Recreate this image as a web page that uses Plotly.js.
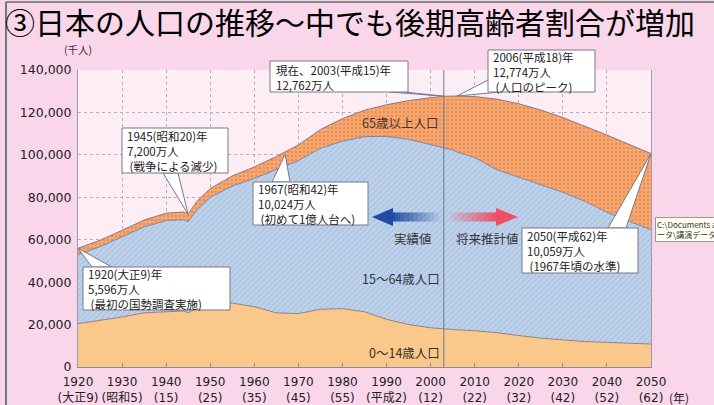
<!DOCTYPE html>
<html><head><meta charset="utf-8">
<script src="https://cdn.plot.ly/plotly-3.0.1.min.js"></script>
<style>html,body{margin:0;padding:0;background:#fad6ea;overflow:hidden}#chart{width:714px;height:405px}</style>
</head><body><div id="chart"></div>
<script>
// ---- data (thousands of people) ----
const years      = [1920,1925,1930,1935,1940,1944,1945,1947,1950,1955,1960,1965,1970,1975,1980,1985,1990,1995,2000,2003,2005,2006,2010,2015,2020,2025,2030,2035,2040,2045,2050];
const age0to14   = [20416,21924,23579,25545,26000,26400,25500,27800,29428,30123,28434,25529,25153,27221,27507,26033,22486,20014,18472,17905,17727,17550,17074,16197,14850,13600,12800,12000,11600,11200,10842];
const age15to64  = [32606,34792,37807,40484,43046,43014,42947,46451,50578,55168,60470,67444,72119,75854,78906,82548,86230,87295,86449,85403,84589,83791,81664,76807,74697,72466,69550,66102,61338,57460,53888];
const age65plus  = [2941,3021,3064,3225,3454,3650,3700,3850,4109,4786,5398,6236,7393,8865,10647,12468,14895,18261,22005,24311,25392,26400,28735,33262,34560,35070,35230,35500,36400,36300,35863];
const seriesNames = ['0～14歳人口','15～64歳人口','65歳以上人口'];
const xTickYears  = [1920,1930,1940,1950,1960,1970,1980,1990,2000,2010,2020,2030,2040,2050];
const xTickLabels = ['1920<br>(大正9)','1930<br>(昭和5)','1940<br>(15)','1950<br>(25)','1960<br>(35)','1970<br>(45)','1980<br>(55)','1990<br>(平成2)','2000<br>(12)','2010<br>(22)','2020<br>(32)','2030<br>(42)','2040<br>(52)','2050<br>(62)'];
const yTickValues = [0,20000,40000,60000,80000,100000,120000,140000];
const actualYear  = 2003;
const calloutYears  = [1920,1945,1967,2003,2006,2050];
const calloutValues = [55960,72000,100240,127620,127740,100590];
const calloutTexts  = [
  ['1920(大正9)年','5,596万人','\u00a0(最初の国勢調査実施)'],
  ['1945(昭和20)年','7,200万人','\u00a0(戦争による減少)'],
  ['1967(昭和42)年','10,024万人','\u00a0(初めて1億人台へ)'],
  ['現在、2003(平成15)年','12,762万人'],
  ['2006(平成18)年','12,774万人','\u00a0(人口のピーク)'],
  ['2050(平成62)年','10,059万人','\u00a0(1967年頃の水準)']
];

// ---- geometry helpers ----
const W=714,H=405,L=78,R=651,T=70,B=367;
const XMIN=1920,XMAX=2050,YMAX=140000;
const px2paperX = px => (px-L)/(R-L);
const py2paperY = py => (B-py)/(B-T);
const year2px = y => L+(y-XMIN)/(XMAX-XMIN)*(R-L);
const val2py  = v => B - v/YMAX*(B-T);

const CJK = 'Noto Sans CJK JP, sans-serif';
const NUM = 'DejaVu Sans, Noto Sans CJK JP, sans-serif';
const edge = 'rgb(120,120,140)';

const traces = [
  {x:years,y:age0to14,name:seriesNames[0],type:'scatter',mode:'lines',stackgroup:'one',
   line:{color:'rgb(150,130,120)',width:1},fillcolor:'rgb(251,200,140)',hoverinfo:'skip'},
  {x:years,y:age15to64,name:seriesNames[1],type:'scatter',mode:'lines',stackgroup:'one',
   line:{color:'rgb(125,135,160)',width:1},fillcolor:'rgb(186,206,232)',
   fillpattern:{shape:'/',bgcolor:'rgb(190,210,235)',fgcolor:'rgb(165,189,220)',size:4,solidity:0.25},hoverinfo:'skip'},
  {x:years,y:age65plus,name:seriesNames[2],type:'scatter',mode:'lines',stackgroup:'one',
   line:{color:'rgb(140,120,130)',width:1},fillcolor:'rgb(248,165,105)',
   fillpattern:{shape:'.',bgcolor:'rgb(248,168,110)',fgcolor:'rgb(232,140,90)',size:4,solidity:0.3},hoverinfo:'skip'}
];

const shapes = [];
const annotations = [];

// vertical line: actual / projection boundary
shapes.push({type:'line',xref:'x',yref:'paper',x0:actualYear,x1:actualYear,y0:0,y1:1,
  line:{color:'rgb(110,120,150)',width:1},layer:'above'});

// callouts
const callBoxes = [
  {box:[83,267,230,310], tx:86,  base:[[92,267],[112,267]]},
  {box:[122,128,228,173], tx:125, base:[[163,173],[178,173]]},
  {box:[253,182,368,225], tx:256, base:[[272,182],[290,182]]},
  {box:[270,61,408,92],  tx:274, base:[[390,92],[405,92]]},
  {box:[488,50,595,92],  tx:491, base:[[488,80],[500,92]]},
  {box:[522,228,638,273], tx:525, base:[[608,228],[626,228]]}
];
callBoxes.forEach((c,i)=>{
  const tipX = px2paperX(year2px(calloutYears[i]));
  const tipY = py2paperY(val2py(calloutValues[i]));
  const b = c.base;
  shapes.push({type:'path',xref:'paper',yref:'paper',layer:'above',
    path:`M ${px2paperX(b[0][0])} ${py2paperY(b[0][1])} L ${tipX} ${tipY} L ${px2paperX(b[1][0])} ${py2paperY(b[1][1])} Z`,
    fillcolor:'white',line:{color:edge,width:1}});
});
callBoxes.forEach((c,i)=>{
  shapes.push({type:'rect',xref:'paper',yref:'paper',layer:'above',
    x0:px2paperX(c.box[0]),x1:px2paperX(c.box[2]),y0:py2paperY(c.box[3]),y1:py2paperY(c.box[1]),
    fillcolor:'white',line:{color:edge,width:1}});
  annotations.push({xref:'paper',yref:'paper',x:px2paperX(c.tx),y:py2paperY((c.box[1]+c.box[3])/2+0.5),
    xanchor:'left',yanchor:'middle',align:'left',showarrow:false,text:calloutTexts[i].join('<br>'),
    font:{family:CJK,size:11.5,color:'#222'}});
});

// gradient arrows
function gradArrow(x0,x1,tipX,baseX,yc,rgb,fadeLeft){
  const n=12, w=(x1-x0)/n;
  for(let k=0;k<n;k++){
    let a = fadeLeft ? (k+0.5)/n : 1-(k+0.5)/n;
    shapes.push({type:'rect',xref:'paper',yref:'paper',layer:'above',
      x0:px2paperX(x0+k*w),x1:px2paperX(x0+(k+1)*w+0.3),y0:py2paperY(yc+4.5),y1:py2paperY(yc-4.5),
      fillcolor:`rgba(${rgb},${a.toFixed(2)})`,line:{width:0}});
  }
  shapes.push({type:'path',xref:'paper',yref:'paper',layer:'above',
    path:`M ${px2paperX(baseX)} ${py2paperY(yc-9)} L ${px2paperX(tipX)} ${py2paperY(yc)} L ${px2paperX(baseX)} ${py2paperY(yc+9)} Z`,
    fillcolor:`rgb(${rgb})`,line:{width:0}});
}
gradArrow(392,442,372,393,217,'35,75,165',false);
gradArrow(447,497,518,496,217,'236,80,98',true);

// frame lines
shapes.push({type:'line',xref:'paper',yref:'paper',x0:px2paperX(6),x1:px2paperX(720),y0:py2paperY(2),y1:py2paperY(2),line:{color:'#8a8a8a',width:2},layer:'above'});
shapes.push({type:'line',xref:'paper',yref:'paper',x0:px2paperX(6),x1:px2paperX(6),y0:py2paperY(2),y1:py2paperY(410),line:{color:'#777',width:2},layer:'above'});

// in-plot labels
const lab = (text,px,py,size,color,anchor)=>annotations.push({xref:'paper',yref:'paper',x:px2paperX(px),y:py2paperY(py),
  xanchor:anchor||'center',yanchor:'middle',showarrow:false,text:text,font:{family:CJK,size:size,color:color||'#333'}});
lab(seriesNames[2],400,122,12.5,'#4a3428');
lab(seriesNames[1],401,278,12.5,'#2d3548');
lab(seriesNames[0],404,352,12.5,'#3a3028');
lab('実績値',413,238,12.5,'#333');
lab('将来推計値',487,238,12.5,'#333');
lab('(千人)',78,49,10.5,'#333');
lab('(年)',679,397,12,'#222');
annotations.push({xref:'paper',yref:'paper',x:px2paperX(655),y:py2paperY(229),xanchor:'left',yanchor:'middle',
  showarrow:false,align:'left',text:'C:\\Documents and Settings<br>ータ\\講演データ',
  font:{family:CJK,size:8,color:'#333'},bgcolor:'#fffff2',bordercolor:'#999',borderwidth:1,borderpad:1});

const layout = {
  width:W,height:H,
  margin:{l:L,r:W-R,t:T,b:H-B,pad:0},
  paper_bgcolor:'#fad6ea',plot_bgcolor:'#fdeef6',
  showlegend:false,
  title:{text:'③日本の人口の推移～中でも後期高齢者割合が増加',
    font:{family:CJK,size:30,color:'#000'},xref:'container',yref:'container',
    x:5/W,xanchor:'left',y:1-23/H,yanchor:'middle'},
  xaxis:{range:[XMIN,XMAX],tickvals:xTickYears,ticktext:xTickLabels,tickangle:0,ticklabelstandoff:4,
    tickfont:{family:NUM,size:12,color:'#222'},
    showgrid:true,gridcolor:'#b4b0bc',griddash:'dot',gridwidth:1,
    showline:true,linecolor:'#8a8a9a',linewidth:1,ticks:'inside',ticklen:4,tickcolor:'#8a8a9a',
    zeroline:false,fixedrange:true},
  yaxis:{range:[0,YMAX],tickvals:yTickValues,tickformat:',d',ticklabelstandoff:3,
    tickfont:{family:NUM,size:12.5,color:'#222'},
    showgrid:true,gridcolor:'#b4b0bc',griddash:'dot',gridwidth:1,
    showline:true,mirror:true,linecolor:'#9a9aae',linewidth:1,ticks:'',
    zeroline:false,fixedrange:true},
  shapes:shapes,annotations:annotations
};
Plotly.newPlot('chart',traces,layout,{displayModeBar:false,staticPlot:true});
</script></body></html>
